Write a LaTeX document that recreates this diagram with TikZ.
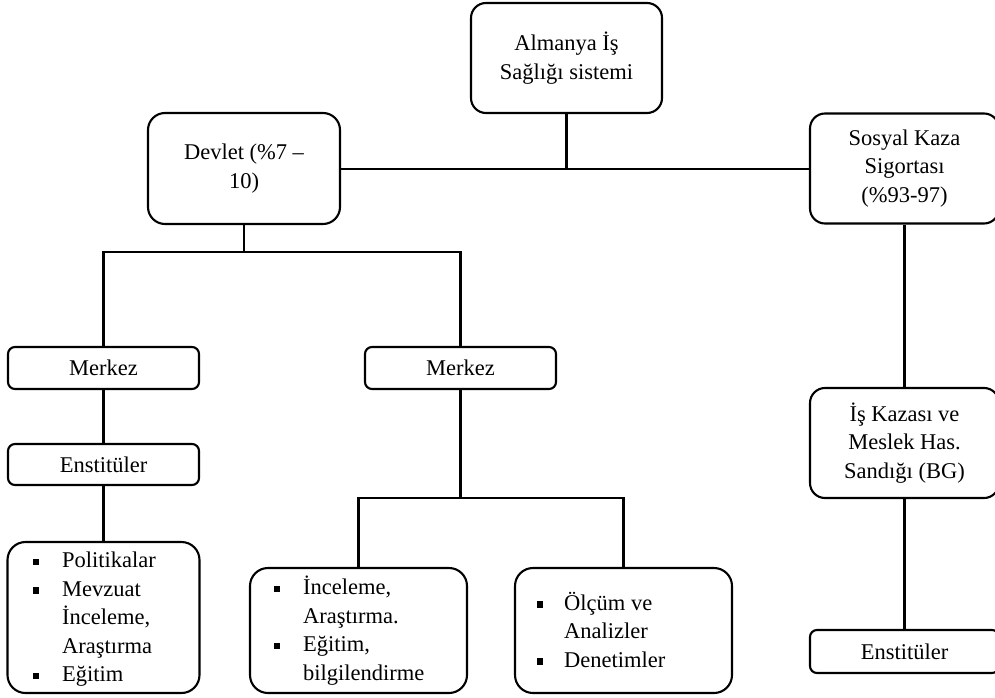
\documentclass[tikz,border=0pt]{standalone}
\usepackage{fontspec}
\setmainfont{Liberation Serif}
\newcommand{\fsz}{\fontsize{22.5}{28.5}\selectfont}
\newcommand{\blt}{\rule[2.5pt]{6pt}{6.5pt}}
\begin{document}
\begin{tikzpicture}[x=1pt,y=-1pt,
  box/.style={draw, line width=2.1pt, rounded corners=#1, inner sep=0pt, align=center, font=\fsz},
  box/.default=15pt,
  conn/.style={line width=2.1pt, line join=miter},
  lst/.style={inner sep=0pt, anchor=west, font=\fsz}]
\useasboundingbox (0,0) rectangle (995,698);
% boxes
\node[box=15pt, minimum width=191pt, minimum height=110pt] (top) at (566.5,58) {Almanya İş\\Sağlığı sistemi};
\node[box=17pt, minimum width=192pt, minimum height=111pt] (devlet) at (244,168.5) {Devlet (\%7 –\\10)};
\node[box=15pt, minimum width=189pt, minimum height=110pt] (sosyal) at (904.5,168.5) {Sosyal Kaza\\Sigortası\\(\%93-97)};
\node[box=7pt, minimum width=191pt, minimum height=42pt] (merkezL) at (103.5,368) {Merkez};
\node[box=7pt, minimum width=191pt, minimum height=42pt] (merkezM) at (460.5,368) {Merkez};
\node[box=7pt, minimum width=191pt, minimum height=41pt] (enstL) at (103.5,464.5) {Enstitüler};
\node[box=18pt, minimum width=192pt, minimum height=151pt] (bulletL) at (103.5,617.5) {};
\node[box=18pt, minimum width=217pt, minimum height=125pt] (bulletM) at (358.5,630.5) {};
\node[box=18pt, minimum width=217pt, minimum height=125pt] (bulletR) at (623.5,630.5) {};
\node[box=15pt, minimum width=189pt, minimum height=110pt] (iskaza) at (904.5,443) {İş Kazası ve\\Meslek Has.\\Sandığı (BG)};
\node[box=7pt, minimum width=189pt, minimum height=43pt] (enstR) at (904.5,651.5) {Enstitüler};
% list texts
\node[lst] (listL) at (33,619) {\begin{tabular}{@{}l@{\hspace{23pt}}l@{}}\blt & Politikalar\\ \blt & Mevzuat\\ & İnceleme,\\ & Araştırma\\ \blt & Eğitim\end{tabular}};
\node[lst] (listM) at (274,632) {\begin{tabular}{@{}l@{\hspace{23pt}}l@{}}\blt & İnceleme,\\ & Araştırma.\\ \blt & Eğitim,\\ & bilgilendirme\end{tabular}};
\node[lst] (listR) at (537,633) {\begin{tabular}{@{}l@{\hspace{21pt}}l@{}}\blt & Ölçüm ve\\ & Analizler\\ \blt & Denetimler\end{tabular}};
% junction coordinates
\coordinate (j1) at (566.5,169);
\coordinate (j2) at (244,252);
\coordinate (j3) at (460.5,498);
% connectors
\draw[conn] (top.south) -- (j1);
\draw[conn] (devlet.east |- j1) -- (sosyal.west |- j1);
\draw[conn] (devlet.south) -- (j2);
\draw[conn] (merkezL.north) -- (merkezL.north |- j2) -- (merkezM.north |- j2) -- (merkezM.north);
\draw[conn] (merkezL.south) -- (enstL.north);
\draw[conn] (enstL.south) -- (bulletL.north);
\draw[conn] (merkezM.south) -- (j3);
\draw[conn] (bulletM.north) -- (bulletM.north |- j3) -- (bulletR.north |- j3) -- (bulletR.north);
\draw[conn] (sosyal.south) -- (iskaza.north);
\draw[conn] (iskaza.south) -- (enstR.north);
\end{tikzpicture}
\end{document}
